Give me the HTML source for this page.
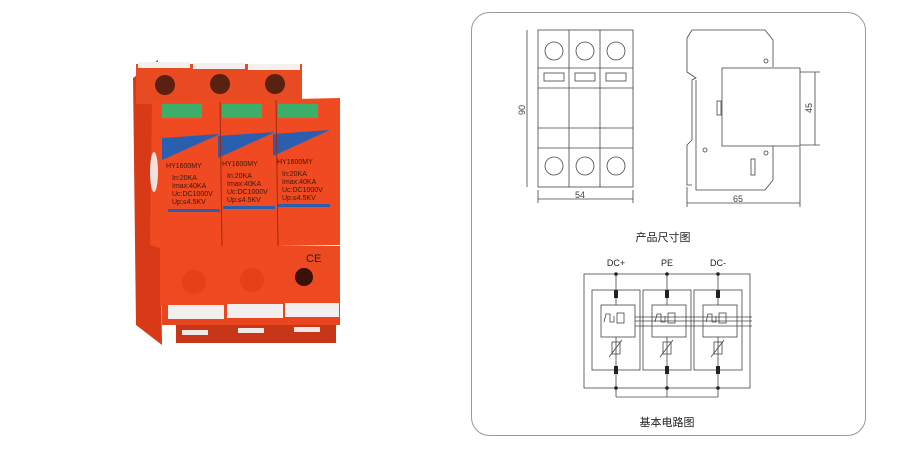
<!DOCTYPE html>
<html><head><meta charset="utf-8"><style>
body{margin:0;background:#fff;width:900px;height:450px;overflow:hidden}
svg{display:block}
text{font-family:"Liberation Sans","Noto Sans CJK SC",sans-serif}
</style></head><body>
<svg width="900" height="450" viewBox="0 0 900 450">
<!-- product photo -->
<g>
<polygon points="133,78 158,60 162,345 136,325" fill="#d83a18"/>
<rect x="136" y="64" width="166" height="40" fill="#e84a22"/>
<rect x="138" y="62" width="52" height="6" fill="#f4f0ee"/>
<rect x="193" y="63" width="52" height="6" fill="#f4f0ee"/>
<rect x="248" y="64" width="52" height="6" fill="#f4f0ee"/>
<circle cx="165" cy="85" r="10" fill="#5a2010"/><circle cx="220" cy="84" r="10" fill="#5a2010"/><circle cx="275" cy="84" r="10" fill="#5a2010"/>
<polygon points="152,102 340,98 340,245 160,248 150,245" fill="#f04a22"/>
<rect x="162" y="104" width="40" height="14" fill="#3cae6a"/>
<rect x="222" y="104" width="40" height="14" fill="#3cae6a"/>
<rect x="278" y="104" width="40" height="14" fill="#3cae6a"/>
<polygon points="162,138 220,134 162,160" fill="#2a5fb0"/>
<polygon points="218,136 275,132 218,158" fill="#2a5fb0"/>
<polygon points="273,134 330,130 273,156" fill="#2a5fb0"/>
<g font-size="7" fill="#3a1a10">
<text x="166" y="168">HY1600MY</text><text x="222" y="166">HY1600MY</text><text x="277" y="164">HY1600MY</text>
<text x="172" y="180">In:20KA</text><text x="227" y="178">In:20KA</text><text x="282" y="176">In:20KA</text>
<text x="172" y="188">Imax:40KA</text><text x="227" y="186">Imax:40KA</text><text x="282" y="184">Imax:40KA</text>
<text x="172" y="196">Uc:DC1000V</text><text x="227" y="194">Uc:DC1000V</text><text x="282" y="192">Uc:DC1000V</text>
<text x="172" y="204">Up:≤4.5KV</text><text x="227" y="202">Up:≤4.5KV</text><text x="282" y="200">Up:≤4.5KV</text>
</g>
<rect x="168" y="209" width="52" height="3" fill="#2a5fb0"/>
<rect x="223" y="206" width="52" height="3" fill="#2a5fb0"/>
<rect x="278" y="204" width="52" height="3" fill="#2a5fb0"/>
<ellipse cx="154" cy="172" rx="4" ry="20" fill="#f2e0dc"/>
<line x1="220" y1="102" x2="222" y2="248" stroke="#a02a10"/>
<line x1="276" y1="100" x2="278" y2="246" stroke="#a02a10"/>
<rect x="160" y="246" width="180" height="60" fill="#ee4a22"/>
<rect x="162" y="305" width="178" height="20" fill="#e84520"/>
<rect x="168" y="305" width="56" height="14" fill="#f2f0ee"/>
<rect x="227" y="304" width="56" height="14" fill="#f2f0ee"/>
<rect x="285" y="303" width="54" height="14" fill="#f2f0ee"/>
<rect x="176" y="325" width="160" height="18" fill="#c83618"/>
<rect x="182" y="330" width="26" height="5" fill="#f0e8e4"/><rect x="238" y="328" width="26" height="5" fill="#f0e8e4"/><rect x="294" y="327" width="26" height="5" fill="#f0e8e4"/>
<circle cx="194" cy="282" r="12" fill="#e64018"/><circle cx="252" cy="280" r="12" fill="#e64018"/>
<circle cx="304" cy="277" r="9" fill="#3a1008"/>
<text x="306" y="262" font-size="11" fill="#222">CE</text>
</g>
<!-- panel -->
<rect x="471.5" y="12.5" width="394" height="423" rx="18" fill="#fff" stroke="#999"/>
<g fill="none" stroke="#444" stroke-width="0.8">
<rect x="538" y="30" width="95" height="157"/>
<line x1="569" y1="30" x2="569" y2="187"/><line x1="600" y1="30" x2="600" y2="187"/>
<line x1="538" y1="68" x2="633" y2="68"/><line x1="538" y1="88" x2="633" y2="88"/>
<line x1="538" y1="128" x2="633" y2="128"/><line x1="538" y1="148" x2="633" y2="148"/>
<circle cx="554" cy="51" r="9"/><circle cx="585" cy="51" r="9"/><circle cx="616" cy="51" r="9"/>
<circle cx="554" cy="166" r="9"/><circle cx="585" cy="166" r="9"/><circle cx="616" cy="166" r="9"/>
<rect x="544" y="73" width="20" height="8"/><rect x="575" y="73" width="20" height="8"/><rect x="606" y="73" width="20" height="8"/>
<line x1="527" y1="30" x2="527" y2="187"/><line x1="538" y1="190" x2="538" y2="203"/><line x1="633" y1="190" x2="633" y2="203"/>
<line x1="538" y1="199" x2="633" y2="199"/>
<polyline points="692,30 765,30 773,40 773,67"/>
<polyline points="692,30 687,38 687,72 696,78 692,80 692,140 687,145 687,185 692,185"/>
<polyline points="696,80 696,190 765,190 773,180 773,146"/>
<rect x="722" y="68" width="78" height="78"/>
<circle cx="766" cy="61" r="2"/><circle cx="766" cy="153" r="2"/><circle cx="705" cy="150" r="2"/>
<rect x="717" y="101" width="4" height="14"/><rect x="751" y="159" width="4" height="16"/>
<line x1="800" y1="72" x2="820" y2="72"/><line x1="800" y1="145" x2="820" y2="145"/><line x1="815" y1="72" x2="815" y2="145"/>
<line x1="687" y1="187" x2="687" y2="207"/><line x1="800" y1="147" x2="800" y2="207"/><line x1="687" y1="203" x2="800" y2="203"/>
</g>
<g font-size="9" fill="#444">
<text x="580" y="198" text-anchor="middle">54</text>
<text x="738" y="202" text-anchor="middle">65</text>
<text transform="translate(525,110) rotate(-90)" text-anchor="middle">90</text>
<text transform="translate(812,108) rotate(-90)" text-anchor="middle">45</text>
</g>
<text x="663" y="241" font-size="11" text-anchor="middle" fill="#222">产品尺寸图</text>
<!-- circuit -->
<g fill="none" stroke="#444" stroke-width="0.8">
<rect x="584" y="274" width="166" height="114"/>
<rect x="592" y="290" width="48" height="80"/><rect x="643" y="290" width="48" height="80"/><rect x="694" y="290" width="48" height="80"/>
<rect x="601" y="305" width="34" height="32"/><rect x="652" y="305" width="34" height="32"/><rect x="703" y="305" width="34" height="32"/>
<line x1="616" y1="274" x2="616" y2="305"/><line x1="667" y1="274" x2="667" y2="305"/><line x1="718" y1="274" x2="718" y2="305"/>
<line x1="616" y1="337" x2="616" y2="397"/><line x1="667" y1="337" x2="667" y2="397"/><line x1="718" y1="337" x2="718" y2="397"/>
<line x1="616" y1="397" x2="718" y2="397"/>
<line x1="635" y1="317" x2="752" y2="317"/><line x1="635" y1="321" x2="752" y2="321"/><line x1="635" y1="326" x2="752" y2="326"/>
<rect x="612" y="342" width="8" height="12"/><rect x="663" y="342" width="8" height="12"/><rect x="714" y="342" width="8" height="12"/>
<line x1="609" y1="357" x2="622" y2="340"/><line x1="660" y1="357" x2="673" y2="340"/><line x1="711" y1="357" x2="724" y2="340"/>
<polyline points="604,322 606,314 610,314 610,322 614,322 614,316"/>
<polyline points="655,322 657,314 661,314 661,322 665,322 665,316"/>
<polyline points="706,322 708,314 712,314 712,322 716,322 716,316"/>
<rect x="617" y="313" width="7" height="10"/><rect x="668" y="313" width="7" height="10"/><rect x="719" y="313" width="7" height="10"/>
</g>
<g fill="#222">
<circle cx="616" cy="274" r="1.8"/><circle cx="667" cy="274" r="1.8"/><circle cx="718" cy="274" r="1.8"/>
<circle cx="616" cy="388" r="1.8"/><circle cx="667" cy="388" r="1.8"/><circle cx="718" cy="388" r="1.8"/>
<rect x="614" y="290" width="4" height="8"/><rect x="665" y="290" width="4" height="8"/><rect x="716" y="290" width="4" height="8"/>
<rect x="614" y="366" width="4" height="8"/><rect x="665" y="366" width="4" height="8"/><rect x="716" y="366" width="4" height="8"/>
<text x="616" y="266" font-size="9" text-anchor="middle">DC+</text>
<text x="667" y="266" font-size="9" text-anchor="middle">PE</text>
<text x="718" y="266" font-size="9" text-anchor="middle">DC-</text>
</g>
<text x="667" y="426" font-size="11" text-anchor="middle" fill="#222">基本电路图</text>
</svg>
</body></html>
